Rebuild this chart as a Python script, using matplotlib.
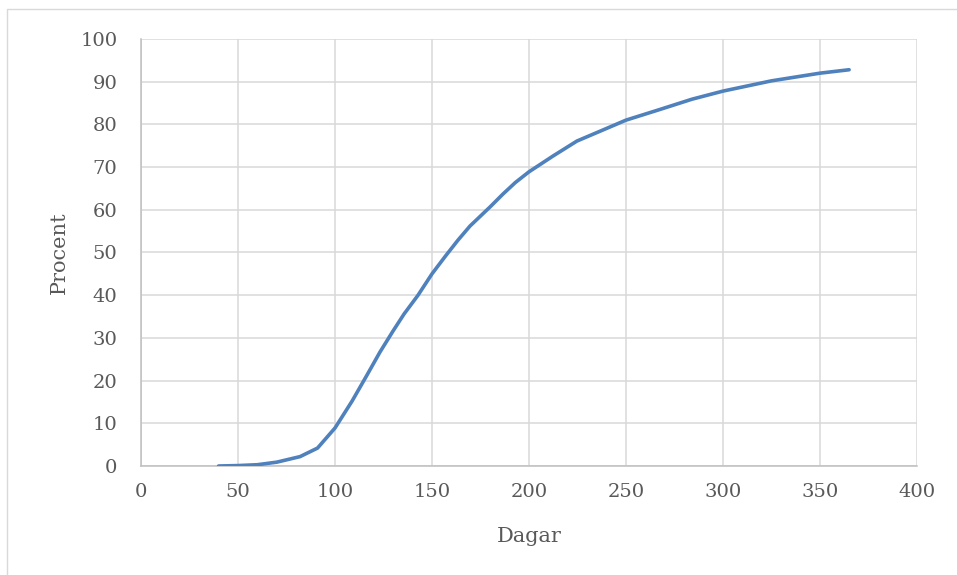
import numpy as np
import matplotlib
matplotlib.use('Agg')
import matplotlib.pyplot as plt
from matplotlib.patches import Rectangle

# cumulative share (procent) by day
dagar = [40, 50, 60, 70, 82, 91, 100, 108.8, 116.5, 123.2, 129.9, 135.6, 142.8,
         150, 157, 163.4, 169.6, 180, 186.6, 193, 200, 212.4, 224.7, 236.6,
         250, 267.5, 284, 300, 325, 350, 365]
procent = [0.0, 0.1, 0.3, 0.9, 2.2, 4.2, 8.9, 15.2, 21.3, 26.7, 31.6, 35.6, 40.0,
           45.0, 49.2, 52.9, 56.2, 60.7, 63.7, 66.4, 68.9, 72.6, 76.1, 78.4,
           81.0, 83.5, 85.9, 87.8, 90.2, 92.0, 92.8]

xticks = np.arange(0, 401, 50)
yticks = np.arange(0, 101, 10)

W, H = 957, 575
fig = plt.figure(figsize=(W/100, H/100), dpi=100)
ax = fig.add_axes([141/W, 1-466/H, (917-141)/W, (466-39)/H])

# light outer frame like the Excel chart area
fig.patches.append(Rectangle((7/W, -0.05), 1.1, 1-9/H+0.05, transform=fig.transFigure,
                             fill=False, edgecolor='#d9d9d9', linewidth=1.0))

ax.plot(dagar, procent, color='#4f81bd', linewidth=2.6, solid_capstyle='round',
        solid_joinstyle='round', zorder=3)

ax.set_xlim(0, 400)
ax.set_ylim(0, 100)
ax.set_xticks(xticks)
ax.set_yticks(yticks)
ax.grid(True, color='#d9d9d9', linewidth=1.1)
ax.set_axisbelow(True)

for s in ['top', 'right']:
    ax.spines[s].set_visible(False)
for s in ['left', 'bottom']:
    ax.spines[s].set_color('#bfbfbf')
    ax.spines[s].set_linewidth(1.1)

ax.tick_params(length=0, labelsize=14, labelcolor='#595959')
ax.tick_params(axis='y', pad=17)
ax.tick_params(axis='x', pad=12)
for lab in ax.get_xticklabels() + ax.get_yticklabels():
    lab.set_family('DejaVu Serif')

ax.set_xlabel('Dagar', family='DejaVu Serif', fontsize=15, color='#595959', labelpad=19)
ax.set_ylabel('Procent', family='DejaVu Serif', fontsize=15, color='#595959', labelpad=8)

fig.savefig('out.png', dpi=100)
